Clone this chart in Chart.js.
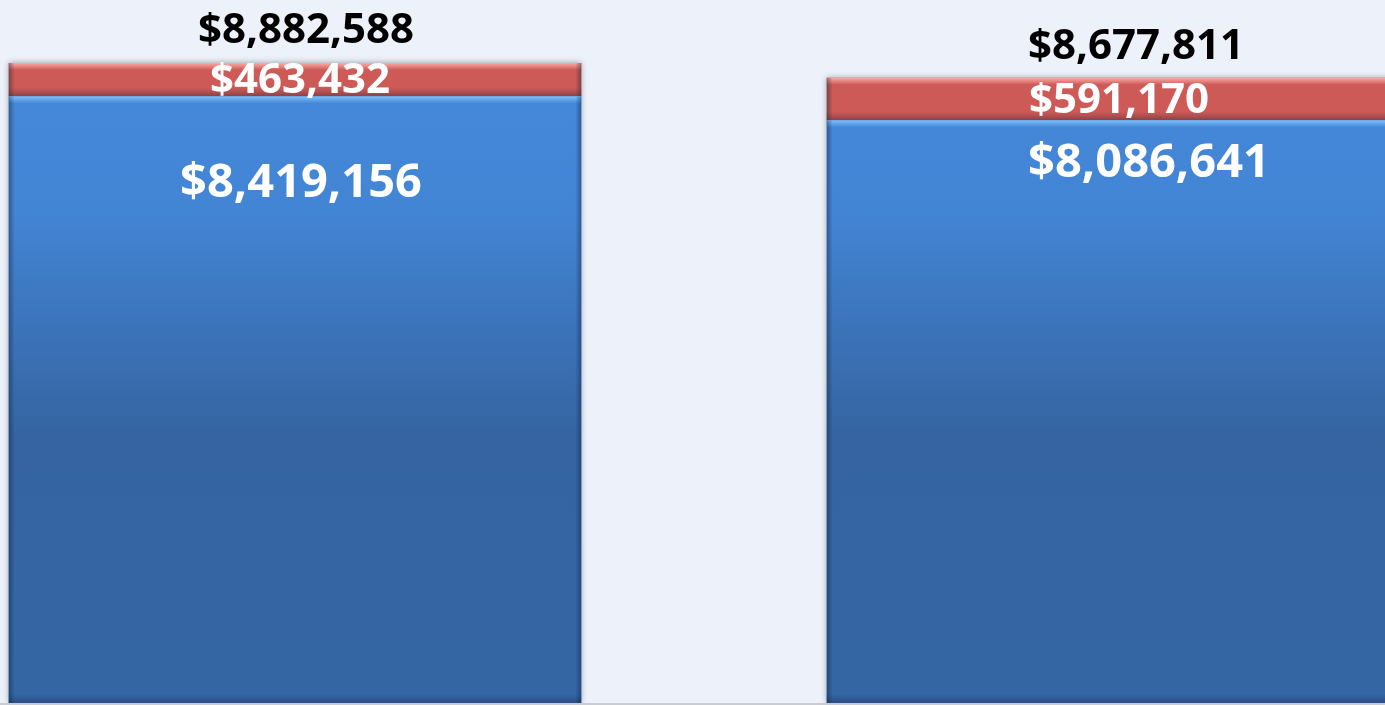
<!DOCTYPE html>
<html>
<head>
<meta charset="utf-8">
<script src="https://cdn.jsdelivr.net/npm/chart.js@4.4.1/dist/chart.umd.min.js"></script>
<style>
  html, body { margin: 0; padding: 0; width: 1385px; height: 705px; overflow: hidden; background: #edf1f9; }
  #wrap { position: absolute; left: -114px; top: 0; width: 1636px; height: 705px; }
</style>
</head>
<body>
<div id="wrap"><canvas id="chart" width="1636" height="705"></canvas></div>
<script>
const categories = ['Bar A', 'Bar B'];
const baseValues = [8419156, 8086641];
const extraValues = [463432, 591170];
const totalValues = [8882588, 8677811];

// label nudges [dx, dy] per bar, relative to the segment / bar top
const labelShift = {
  total: [[11, -32], [23, -31]],
  extra: [[5, 1], [6, 2]],
  base: [[6, 87], [36, 43]]
};

const money = v => '$' + v.toLocaleString('en-US');

function blueFill(ctx) {
  const area = ctx.chart.chartArea;
  if (!area) return '#3f7cc6';
  const g = ctx.chart.ctx.createLinearGradient(0, area.top, 0, area.bottom);
  g.addColorStop(0, '#4689da');
  g.addColorStop(0.3, '#4385d5');
  g.addColorStop(0.62, '#3564a1');
  g.addColorStop(1, '#3566a4');
  return g;
}

const bevel = {
  id: 'bevel',
  beforeDatasetDraw(chart) {
    const c = chart.ctx;
    c.save();
    c.shadowColor = 'rgba(40,50,70,0.45)';
    c.shadowBlur = 6;
  },
  afterDatasetDraw(chart, args) {
    const c = chart.ctx;
    c.restore();
    const red = args.index === 1;
    args.meta.data.forEach(el => {
      const p = el.getProps(['x', 'y', 'base', 'width'], true);
      const l = p.x - p.width / 2, r = p.x + p.width / 2;
      const t = p.y, b = p.base;
      let g = c.createLinearGradient(0, t, 0, t + 7);
      g.addColorStop(0, red ? 'rgba(255,175,172,0.95)' : 'rgba(125,195,255,0.95)');
      g.addColorStop(1, red ? 'rgba(255,175,172,0)' : 'rgba(125,195,255,0)');
      c.fillStyle = g;
      c.fillRect(l, t, r - l, 7);
      g = c.createLinearGradient(0, b - 9, 0, b);
      g.addColorStop(0, 'rgba(20,35,70,0)');
      g.addColorStop(1, red ? 'rgba(90,20,20,0.3)' : 'rgba(20,35,70,0.35)');
      c.fillStyle = g;
      c.fillRect(l, b - 9, r - l, 9);
      g = c.createLinearGradient(l, 0, l + 6, 0);
      g.addColorStop(0, 'rgba(10,25,55,0.4)');
      g.addColorStop(1, 'rgba(10,25,55,0)');
      c.fillStyle = g;
      c.fillRect(l, t, 6, b - t);
      g = c.createLinearGradient(r - 6, 0, r, 0);
      g.addColorStop(0, 'rgba(10,25,55,0)');
      g.addColorStop(1, 'rgba(10,25,55,0.4)');
      c.fillStyle = g;
      c.fillRect(r - 6, t, 6, b - t);
    });
  },
  afterDraw(chart) {
    const c = chart.ctx;
    c.fillStyle = '#c9ccd2';
    c.fillRect(0, chart.chartArea.bottom, chart.width, 2);
  }
};

const valueLabels = {
  id: 'valueLabels',
  afterDatasetsDraw(chart) {
    const c = chart.ctx;
    const low = chart.getDatasetMeta(0).data;
    const high = chart.getDatasetMeta(1).data;
    c.save();
    c.textAlign = 'center';
    c.textBaseline = 'middle';
    low.forEach((el, i) => {
      const top = high[i];
      c.fillStyle = '#ffffff';
      c.font = 'bold 47px "Open Sans"';
      c.fillText(money(baseValues[i]), el.x + labelShift.base[i][0], el.y + labelShift.base[i][1]);
      c.font = 'bold 42px "Open Sans"';
      c.fillText(money(extraValues[i]), top.x + labelShift.extra[i][0], (top.y + top.base) / 2 + labelShift.extra[i][1]);
      c.fillStyle = '#000000';
      c.font = 'bold 42px "Open Sans"';
      c.fillText(money(totalValues[i]), top.x + labelShift.total[i][0], top.y + labelShift.total[i][1]);
    });
    c.restore();
  }
};

new Chart(document.getElementById('chart'), {
  type: 'bar',
  data: {
    labels: categories,
    datasets: [
      { data: baseValues, backgroundColor: blueFill, borderWidth: 0 },
      { data: extraValues, backgroundColor: '#cd5a56', borderWidth: 0 }
    ]
  },
  options: {
    responsive: false,
    devicePixelRatio: 1,
    animation: false,
    layout: { padding: { top: 0, bottom: 2, left: 0, right: 0 } },
    datasets: { bar: { barPercentage: 0.7, categoryPercentage: 1 } },
    plugins: { legend: { display: false }, tooltip: { enabled: false } },
    scales: {
      x: { stacked: true, display: false },
      y: { stacked: true, display: false, min: 0, max: 9757000 }
    }
  },
  plugins: [bevel, valueLabels]
});
</script>
</body>
</html>
